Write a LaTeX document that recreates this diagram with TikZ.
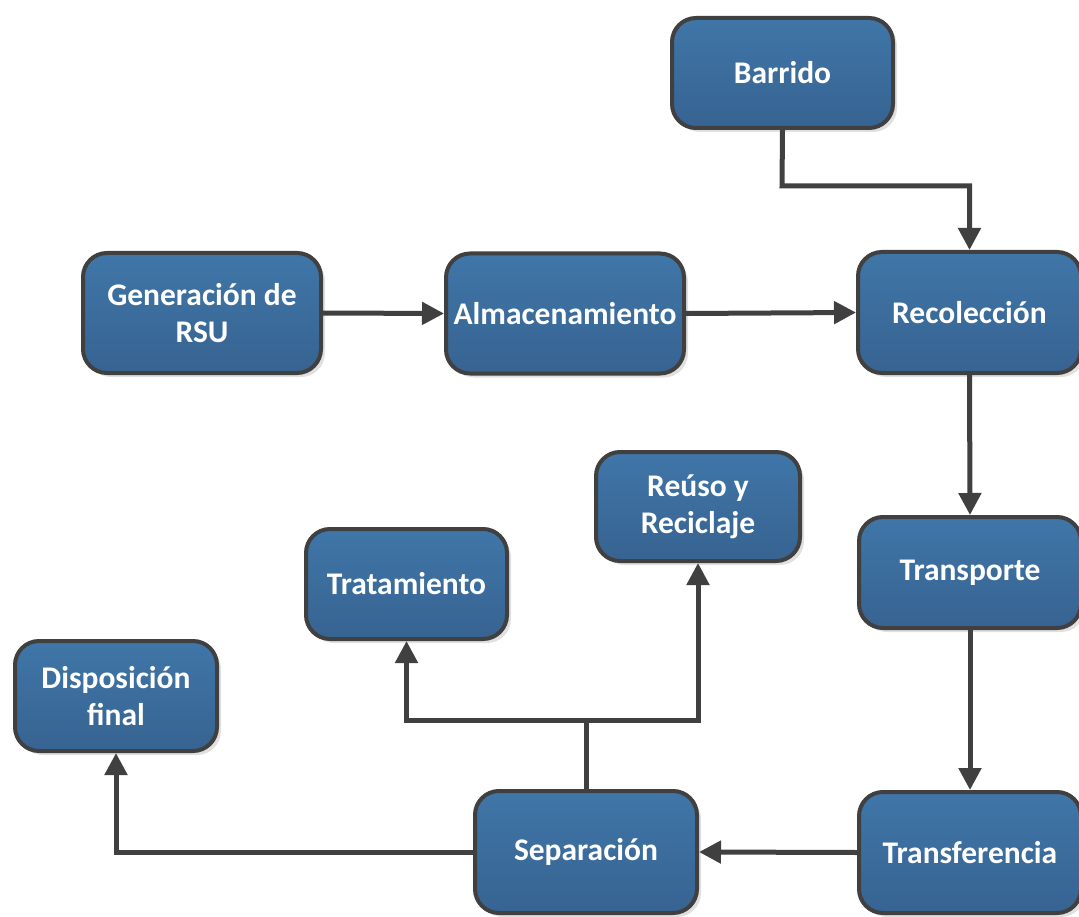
\documentclass[tikz,border=0pt]{standalone}
\usepackage{fontspec}
\setmainfont{Carlito}
\usetikzlibrary{arrows.meta,shadows}
\definecolor{boxtop}{HTML}{3F76A8}
\definecolor{boxbot}{HTML}{376391}
\definecolor{edgec}{HTML}{404040}
\tikzset{
 box/.style={rounded corners=24pt, draw=edgec, line width=4pt, top color=boxtop, bottom color=boxbot,
   text=white, font=\fontsize{31.5}{37}\selectfont\bfseries, align=center, inner sep=0pt,
   drop shadow={shadow xshift=4pt, shadow yshift=-4pt, fill=black!12, opacity=1}},
 conn/.style={draw=edgec, line width=5pt, -{Triangle[length=22pt,width=22pt]}},
 plain/.style={draw=edgec, line width=5pt}
}
\begin{document}
\begin{tikzpicture}[x=1pt,y=-1pt]
\useasboundingbox (0,0) rectangle (1079,917);
\clip (0,0) rectangle (1079,917);
\node[box, minimum width=221pt, minimum height=110pt] (barr) at (782.5,73) {Barrido};
\node[box, minimum width=238pt, minimum height=120pt] (gen) at (202,313) {Generación de\\RSU};
\node[box, minimum width=238pt, minimum height=120pt] (alm) at (565,313.5) {Almacenamiento};
\node[box, minimum width=223pt, minimum height=121pt] (rec) at (969.5,312.5) {Recolección};
\node[box, minimum width=222pt, minimum height=111pt] (trp) at (970,572.5) {Transporte};
\node[box, minimum width=222pt, minimum height=121pt] (trf) at (970,852.5) {Transferencia};
\node[box, minimum width=222pt, minimum height=122pt] (sep) at (586,852) {Separación};
\node[box, minimum width=201pt, minimum height=110pt] (trat) at (406.5,584) {Tratamiento};
\node[box, minimum width=204pt, minimum height=109pt] (reu) at (698,506.5) {Reúso y\\Reciclaje};
\node[box, minimum width=202pt, minimum height=110pt] (disp) at (116,696) {Disposición\\final};

\coordinate (k1) at (782,186);
\coordinate (k2) at (586,720);
\draw[conn] (barr.south) -- (k1) -| (rec.north);
\draw[conn] (gen.east) -- (alm.west);
\draw[conn] (alm.east) -- (rec.west);
\draw[conn] (rec.south) -- (trp.north);
\draw[conn] (trp.south) -- (trf.north);
\draw[conn] (trf.west) -- (sep.east);
\draw[plain] (sep.north) -- (k2);
\draw[conn] (k2) -| (trat.south);
\draw[conn] (k2) -| (reu.south);
\draw[conn] (sep.west) -| (disp.south);
\end{tikzpicture}
\end{document}
